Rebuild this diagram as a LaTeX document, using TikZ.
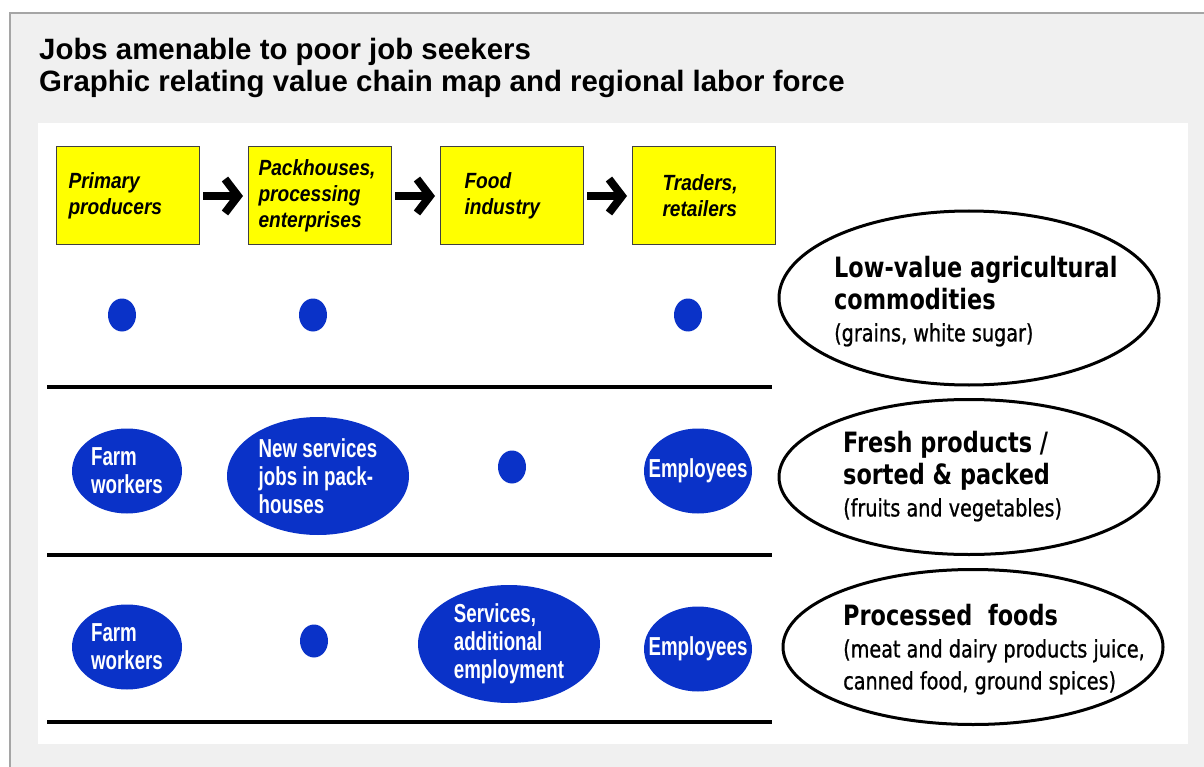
\documentclass[tikz,border=0pt]{standalone}
\usepackage{fontspec}
\setmainfont{Liberation Sans}
\newfontfamily\catfont[FakeStretch=0.8]{DejaVu Sans}
\newfontfamily\catsmallfont[FakeStretch=0.8, FakeBold=0.8]{DejaVu Sans}
\newfontfamily\narrowfont[FakeStretch=0.72]{Liberation Sans}
\newfontfamily\boxfont[FakeStretch=0.87]{Liberation Sans}
\usetikzlibrary{positioning,shapes.geometric,arrows.meta}
\definecolor{jobblue}{RGB}{10,50,200}
\definecolor{panelgray}{RGB}{240,240,240}
\definecolor{bordergray}{RGB}{165,165,165}
\definecolor{boxyellow}{RGB}{255,255,0}
\tikzset{
  title/.style={anchor=base west, inner sep=0pt, font=\bfseries\fontsize{29.4}{32}\selectfont},
  chainbox/.style={draw=black!75, fill=boxyellow, line width=1pt, minimum height=98pt,
    align=left, font=\boxfont\bfseries\itshape\fontsize{22}{26}\selectfont},
  chainarrow/.style={line width=8pt, -{Straight Barb[length=13pt,width=34pt]}, shorten <=3pt, shorten >=5pt},
  dot/.style={ellipse, fill=jobblue, minimum width=28pt, minimum height=33pt, inner sep=0pt},
  job/.style={ellipse, fill=jobblue, text=white, inner xsep=-40pt, inner ysep=-30pt, align=left,
    font=\narrowfont\bfseries\fontsize{26}{28}\selectfont},
  category/.style={ellipse, draw=black, line width=3pt, fill=white, minimum width=380pt, inner sep=0pt},
  cattext/.style={anchor=north west, inner sep=0pt, align=left, font=\catfont\bfseries\fontsize{28}{32}\selectfont},
  rowline/.style={line width=4pt}
}
\newcommand{\smalltxt}[1]{{\catsmallfont\mdseries\fontsize{24}{32}\selectfont #1}}
\begin{document}
\begin{tikzpicture}[x=1pt,y=-1pt]
\useasboundingbox (0,0) rectangle (1204,767);
\fill[white] (0,0) rectangle (1204,767);
\fill[panelgray] (10,13) rectangle (1204,767);
\draw[bordergray, line width=2pt] (10,767) -- (10,13) -- (1204,13);
\fill[white] (38,123) rectangle (1188,744);

\node[title] (title1) at (39,60) {Jobs amenable to poor job seekers};
\node[title] (title2) at (39,92) {Graphic relating value chain map and regional labor force};

% value chain
\node[chainbox, inner xsep=12pt, text width=119pt] (prim) at (128,196) {Primary\\producers};
\node[chainbox, inner xsep=10pt, text width=123pt, right=48pt of prim] (pack) {Packhouses,\\processing\\enterprises};
\node[chainbox, inner xsep=24pt, text width=95pt, right=48pt of pack] (food) {Food\\industry};
\node[chainbox, inner xsep=30pt, text width=83pt, right=48pt of food] (trade) {Traders,\\retailers};
\draw[chainarrow] (prim) -- (pack);
\draw[chainarrow] (pack) -- (food);
\draw[chainarrow] (food) -- (trade);

% rows
\draw[rowline] (47,387) -- (772,387);
\draw[rowline] (47,555) -- (772,555);
\draw[rowline] (47,722) -- (772,722);

\node[dot] (lowprim) at (122,315) {};
\node[dot] (lowpack) at (313,315) {};
\node[dot] (lowtrade) at (688,315) {};

\node[job, minimum width=110pt, minimum height=85pt] (freshprim) at (127,471) {Farm\\workers};
\node[job, minimum width=182pt, minimum height=118pt] (freshpack) at (318,476) {New services\\jobs in pack-\\houses};
\node[dot] (freshfood) at (512,467) {};
\node[job, minimum width=108pt, minimum height=85pt] (freshtrade) at (698,471) {Employees};

\node[job, minimum width=110pt, minimum height=85pt] (procprim) at (127,647) {Farm\\workers};
\node[dot] (procpack) at (314,641) {};
\node[job, minimum width=182pt, minimum height=118pt] (procfood) at (509,644) {Services,\\additional\\employment};
\node[job, minimum width=108pt, minimum height=85pt] (proctrade) at (698,649) {Employees};

% product categories
\node[category, minimum height=174pt] (low) at (969,298) {};
\node[category, minimum height=155pt] (fresh) at (969,477) {};
\node[category, minimum height=155pt] (proc) at (973,647) {};
\node[cattext] (lowtxt) at (834,256) {Low-value agricultural\\commodities\\\smalltxt{(grains, white sugar)}};
\node[cattext] (freshtxt) at (843,431) {Fresh products /\\sorted \& packed\\\smalltxt{(fruits and vegetables)}};
\node[cattext] (proctxt) at (843,604) {Processed \ foods\\\smalltxt{(meat and dairy products juice,}\\\smalltxt{canned food, ground spices)}};
\end{tikzpicture}
\end{document}
